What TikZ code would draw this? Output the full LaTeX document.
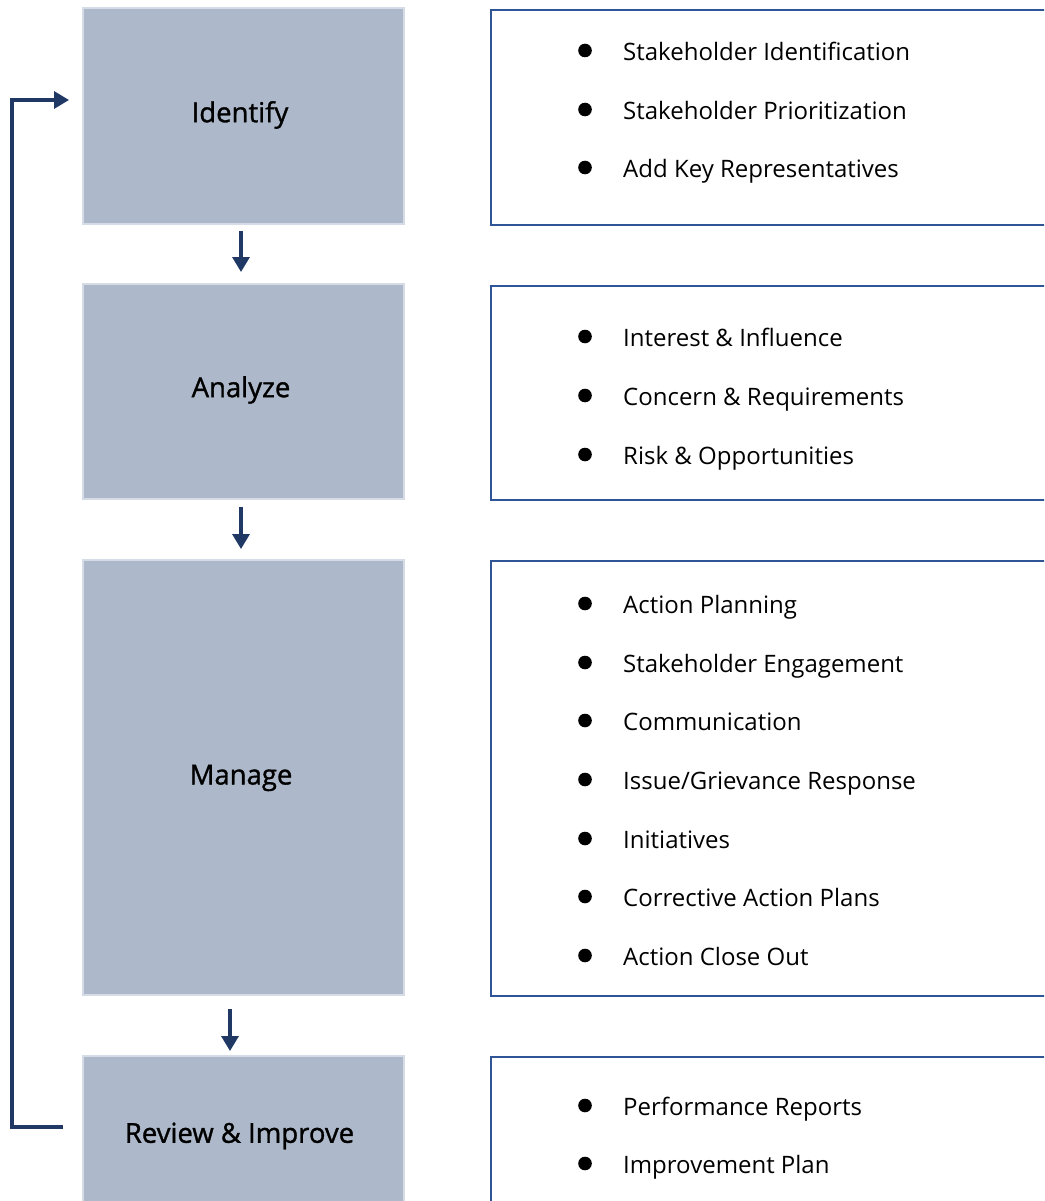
\documentclass[tikz,border=0pt]{standalone}
\usepackage{fontspec}
\setmainfont{Open Sans}
\newfontfamily\lblfont[FakeBold=1.2]{Open Sans}
\usetikzlibrary{arrows.meta}
\definecolor{stepfill}{HTML}{ADB9CA}
\definecolor{stepedge}{HTML}{D6DCE5}
\definecolor{listedge}{HTML}{2F5597}
\definecolor{navy}{HTML}{1F3864}
\newcommand\bitem[3]{%
  \fill (585,#2-1.5) circle (6.8);
  \node[itemtext] (#1) at (623,#2+8.5) {#3};
}
\begin{document}
\begin{tikzpicture}[x=1pt,y=-1pt,
  stepbox/.style={draw=stepedge, line width=2pt, fill=stepfill, minimum width=321pt, inner sep=0pt},
  steplabel/.style={inner sep=0pt, font=\lblfont\fontsize{27.5}{32}\selectfont},
  listbox/.style={draw=listedge, line width=2pt, minimum width=600pt, anchor=north west, inner sep=0pt},
  itemtext/.style={anchor=base west, inner sep=0pt, font=\fontsize{24}{29}\selectfont},
  flow/.style={draw=navy, line width=3.4pt, -{Triangle[length=15pt,width=17pt]}}]
\useasboundingbox (0,0) rectangle (1044,1201);
\clip (0,0) rectangle (1044,1201);
% step boxes
\node[stepbox, minimum height=216pt] (identify) at (243.5,116) {};
\node[stepbox, minimum height=215pt] (analyze) at (243.5,391.5) {};
\node[stepbox, minimum height=435pt] (manage) at (243.5,777.5) {};
\node[stepbox, minimum height=156pt] (review) at (243.5,1134) {};
\node[steplabel] (tidentify) at (240,115) {Identify};
\node[steplabel] (tanalyze) at (241,390) {Analyze};
\node[steplabel] (tmanage) at (241,778) {Manage};
\node[steplabel] (treview) at (239.5,1136) {Review \& Improve};
% list boxes
\node[listbox, minimum height=215pt] (l1) at (490,9) {};
\node[listbox, minimum height=214pt] (l2) at (490,285) {};
\node[listbox, minimum height=435pt] (l3) at (490,560) {};
\node[listbox, minimum height=200pt] (l4) at (490,1056) {};
% items
\bitem{a1}{52}{Stakeholder Identification}
\bitem{a2}{111}{Stakeholder Prioritization}
\bitem{a3}{169}{Add Key Representatives}
\bitem{b1}{338}{Interest \& Influence}
\bitem{b2}{397}{Concern \& Requirements}
\bitem{b3}{456}{Risk \& Opportunities}
\bitem{c1}{605}{Action Planning}
\bitem{c2}{664}{Stakeholder Engagement}
\bitem{c3}{722}{Communication}
\bitem{c4}{781}{Issue/Grievance Response}
\bitem{c5}{840}{Initiatives}
\bitem{c6}{898}{Corrective Action Plans}
\bitem{c7}{957}{Action Close Out}
\bitem{d1}{1107}{Performance Reports}
\bitem{d2}{1165}{Improvement Plan}
% arrows
\draw[flow, shorten <=6pt, shorten >=11pt] ([xshift=-2.5pt]identify.south) -- ([xshift=-2.5pt]analyze.north);
\draw[flow, shorten <=7pt, shorten >=10pt] ([xshift=-2.5pt]analyze.south) -- ([xshift=-2.5pt]manage.north);
\draw[flow, shorten <=13pt, shorten >=4pt] ([xshift=-13.5pt]manage.south) -- ([xshift=-13.5pt]review.north);
\coordinate (fbS) at (63,1127);
\coordinate (fbE) at (69,100);
\draw[flow] (fbS) -- (12,1127) |- (fbE);
\end{tikzpicture}
\end{document}
